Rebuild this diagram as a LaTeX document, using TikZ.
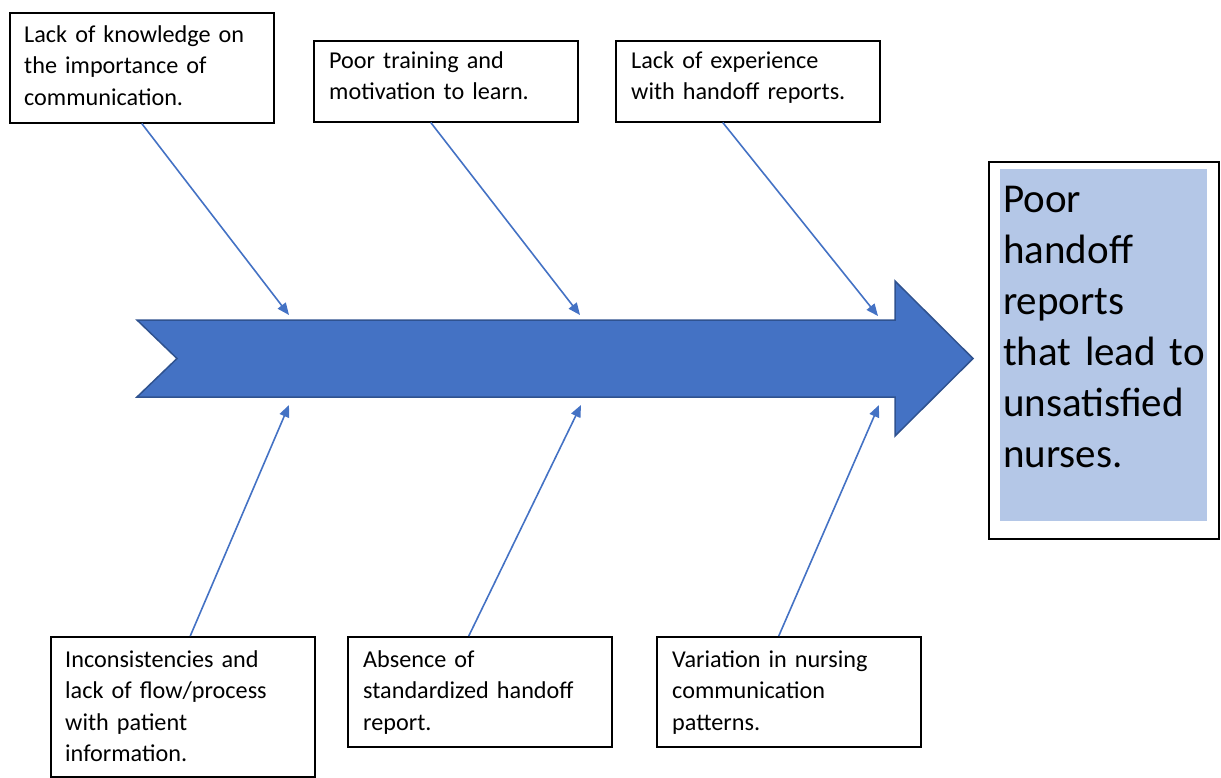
\documentclass[tikz,border=0pt]{standalone}
\usepackage{fontspec}
\setmainfont{Carlito}
\usetikzlibrary{arrows.meta,calc}
\definecolor{fishblue}{HTML}{4472C4}
\definecolor{fishedge}{HTML}{2F528F}
\definecolor{effectfill}{HTML}{B4C7E7}
\begin{document}
\begin{tikzpicture}[x=1pt,y=-1pt,
  causebox/.style={draw=black,line width=1.5pt,minimum width=264pt,minimum height=#1,anchor=north west,inner sep=0pt},
  causetext/.style={anchor=base west,align=left,text width=250pt,inner sep=0pt,
    font=\fontsize{24.2}{31.5}\selectfont},
  effecttext/.style={anchor=base west,align=left,text width=240pt,inner sep=0pt,
    font=\fontsize{41}{51}\selectfont},
  bone/.style={draw=fishblue,line width=1.6pt,-{Triangle[length=12pt,width=10pt]}}]
\useasboundingbox (0,0) rectangle (1221,777);

% spine of the fishbone
\filldraw[fill=fishblue,draw=fishedge,line width=1.5pt,line join=miter]
  (137,320) -- (895,320) -- (895,281) -- (973,358.5) -- (895,436)
  -- (895,397) -- (137,397) -- (177,358.5) -- cycle;

% effect box
\node[draw=black,line width=2pt,minimum width=230pt,minimum height=377pt,
  anchor=north west,inner sep=0pt] (effect) at (988,161) {};
\node[fill=effectfill,minimum width=207pt,minimum height=352pt,
  anchor=north west,inner sep=0pt] (effectbg) at (1000,169) {};
\node[effecttext] (effectlabel) at (1003,212)
  {Poor\\handoff\\reports\\that lead to\\unsatisfied\\nurses.};

% cause boxes, top row
\node[causebox=110pt] (c1) at (9,12) {};
\node[causetext] (c1t) at (24,42) {Lack of knowledge on\\the importance of\\communication.};
\node[causebox=81pt] (c2) at (313,40) {};
\node[causetext] (c2t) at (329,68) {Poor training and\\motivation to learn.};
\node[causebox=81pt] (c3) at (615,40) {};
\node[causetext] (c3t) at (631,68) {Lack of experience\\with handoff reports.};

% cause boxes, bottom row
\node[causebox=140pt] (b1) at (50,636) {};
\node[causetext] (b1t) at (65,667) {Inconsistencies and\\lack of flow/process\\with patient\\information.};
\node[causebox=110pt] (b2) at (347,636) {};
\node[causetext] (b2t) at (363,667) {Absence of\\standardized handoff\\report.};
\node[causebox=110pt] (b3) at (656,636) {};
\node[causetext] (b3t) at (672,667) {Variation in nursing\\communication\\patterns.};

% points where the bones meet the spine
\coordinate (s1) at (289,315);
\coordinate (s2) at (580,315);
\coordinate (s3) at (878,316);
\coordinate (r1) at (289,405);
\coordinate (r2) at (581,405);
\coordinate (r3) at (879,405);

% bones
\draw[bone] (c1.south) -- (s1);
\draw[bone] ([xshift=-15pt]c2.south) -- (s2);
\draw[bone] ([xshift=-25pt]c3.south) -- (s3);
\draw[bone] ([xshift=7.5pt]b1.north) -- (r1);
\draw[bone] ([xshift=-11pt]b2.north) -- (r2);
\draw[bone] ([xshift=-10pt]b3.north) -- (r3);
\end{tikzpicture}
\end{document}
